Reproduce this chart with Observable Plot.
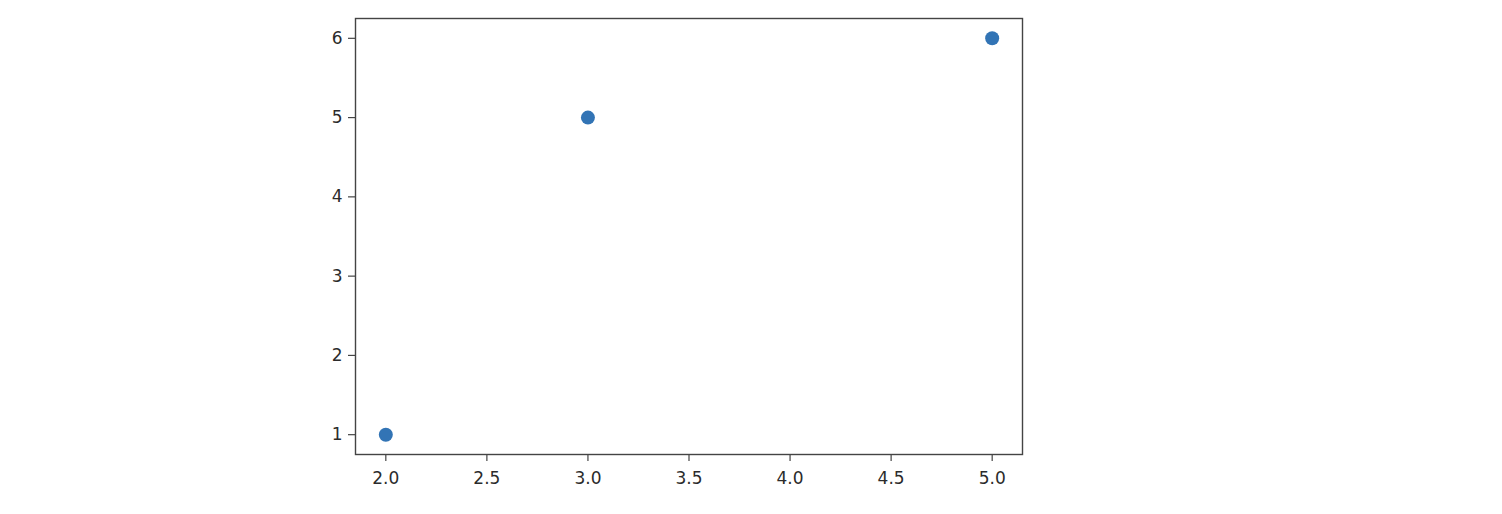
<!DOCTYPE html>
<html>
<head>
<meta charset="utf-8">
<script src="https://cdn.jsdelivr.net/npm/d3@7"></script>
<script src="https://cdn.jsdelivr.net/npm/@observablehq/plot@0.6"></script>
<style>
  html, body { margin: 0; padding: 0; background: #fff; }
  #chart svg { display: block; }
</style>
</head>
<body>
<div id="chart"></div>
<script>
const xValues = [2, 3, 5];
const yValues = [1, 5, 6];
const xTicks = [2.0, 2.5, 3.0, 3.5, 4.0, 4.5, 5.0];
const yTicks = [1, 2, 3, 4, 5, 6];

const data = xValues.map((x, i) => ({x, y: yValues[i]}));

const chart = Plot.plot({
  width: 1502,
  height: 514,
  marginLeft: 355,
  marginRight: 480,
  marginTop: 18,
  marginBottom: 60,
  style: {fontFamily: "DejaVu Sans, sans-serif", fontSize: "17px", color: "#2b2b2b", background: "#fff"},
  x: {domain: [1.85, 5.15], label: null},
  y: {domain: [0.75, 6.25], label: null},
  marks: [
    Plot.axisX(xTicks, {tickFormat: d3.format(".1f"), tickSize: 7, tickPadding: 10, stroke: "#444", strokeWidth: 1.2, fontSize: 17}),
    Plot.axisY(yTicks, {tickFormat: d3.format("d"), tickSize: 7, tickPadding: 6, stroke: "#444", strokeWidth: 1.2, fontSize: 17}),
    Plot.dot(data, {x: "x", y: "y", r: 7, fill: "#3274b5", stroke: "none"}),
    Plot.frame({stroke: "#444", strokeWidth: 1.4})
  ]
});
document.getElementById("chart").appendChild(chart);
</script>
</body>
</html>
